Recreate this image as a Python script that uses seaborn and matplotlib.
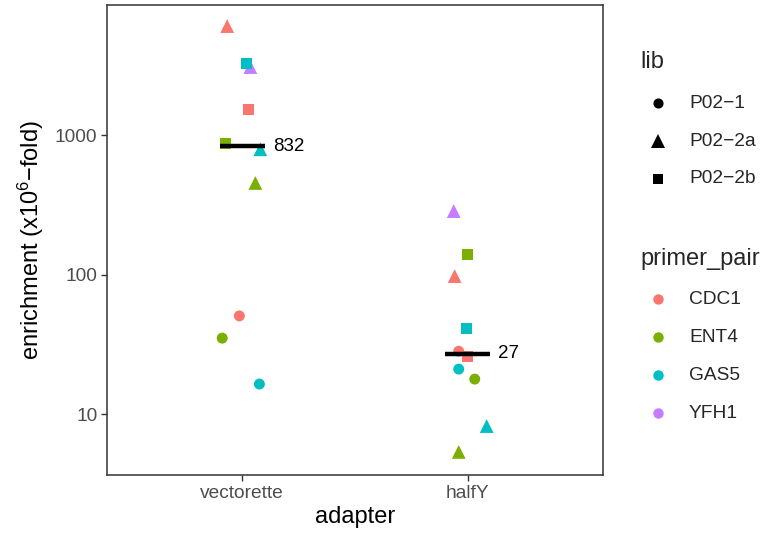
import numpy as np
import pandas as pd
import matplotlib
matplotlib.use("Agg")
import matplotlib.pyplot as plt
from matplotlib.lines import Line2D
import seaborn as sns

# ---------------- data ----------------
adapter_levels = ["vectorette", "halfY"]
lib_levels = ["P02−1", "P02−2a", "P02−2b"]
primer_levels = ["CDC1", "ENT4", "GAS5", "YFH1"]

adapter = ["vectorette"] * 10 + ["halfY"] * 10
lib = ["P02−2a", "P02−2b", "P02−2a", "P02−2b", "P02−2b",
       "P02−2a", "P02−2a", "P02−1", "P02−1", "P02−1",
       "P02−2a", "P02−2b", "P02−2a", "P02−2b", "P02−1",
       "P02−2b", "P02−1", "P02−1", "P02−2a", "P02−2a"]
primer_pair = ["CDC1", "GAS5", "YFH1", "CDC1", "ENT4",
               "GAS5", "ENT4", "CDC1", "ENT4", "GAS5",
               "YFH1", "ENT4", "CDC1", "GAS5", "CDC1",
               "CDC1", "GAS5", "ENT4", "GAS5", "ENT4"]
enrichment = [6040, 3280, 3070, 1535, 874,
              790, 453, 50.5, 35, 16.4,
              285, 140, 97.5, 41.3, 28.2,
              25.8, 21.0, 17.8, 8.2, 5.35]
# horizontal jitter (category units)
jitter = [-0.067, 0.018, 0.036, 0.027, -0.076,
          0.080, 0.058, -0.013, -0.089, 0.076,
          -0.062, 0.000, -0.058, -0.004, -0.040,
          0.000, -0.040, 0.031, 0.084, -0.040]

df = pd.DataFrame(dict(adapter=adapter, lib=lib, primer_pair=primer_pair,
                       enrichment=enrichment, jitter=jitter))
df["x"] = df["adapter"].map({a: i + 1 for i, a in enumerate(adapter_levels)}) + df["jitter"]

palette = dict(zip(primer_levels, ["#F8766D", "#7CAE00", "#00BFC4", "#C77CFF"]))
markers = {"P02−1": "o", "P02−2a": "^", "P02−2b": "s"}
msizes = {"P02−1": 62, "P02−2a": 98, "P02−2b": 62}

# ---------------- style ----------------
sns.set_theme(style="white")
plt.rcParams["font.family"] = ["Liberation Sans", "DejaVu Sans"]
plt.rcParams["mathtext.fontset"] = "custom"
plt.rcParams["mathtext.rm"] = "Liberation Sans"
plt.rcParams["mathtext.it"] = "Liberation Sans"

fig = plt.figure(figsize=(7.62, 5.33), dpi=100)
ax = fig.add_axes([107 / 762, 1 - 475 / 533, (603 - 107) / 762, (475 - 5) / 533])

for lv in lib_levels:
    sub = df[df["lib"] == lv]
    sns.scatterplot(data=sub, x="x", y="enrichment", hue="primer_pair",
                    palette=palette, marker=markers[lv], s=msizes[lv],
                    linewidth=0, legend=False, ax=ax, zorder=2)

# medians
for i, a in enumerate(adapter_levels):
    med = np.median(df.loc[df["adapter"] == a, "enrichment"])
    ax.hlines(med, i + 1 - 0.1, i + 1 + 0.1, color="black", lw=3.2, zorder=3)
    ax.text(i + 1 + 0.135, med, f"{med:.0f}", ha="left", va="center",
            fontsize=13.5, color="black")

ax.set_yscale("log")
ax.set_ylim(10 ** 0.563, 10 ** 3.932)
ax.set_xlim(0.4, 2.6)
ax.set_xticks([1, 2])
ax.set_xticklabels(adapter_levels)
ax.set_yticks([10, 100, 1000])
ax.set_yticklabels(["10", "100", "1000"])
ax.yaxis.set_minor_locator(matplotlib.ticker.NullLocator())
ax.tick_params(axis="both", which="major", direction="out", length=4, width=1,
               color="#333333", labelsize=13.8, labelcolor="#4D4D4D", pad=3,
               bottom=True, left=True)
for sp in ax.spines.values():
    sp.set_color("#333333")
    sp.set_linewidth(1.1)
ax.grid(False)
ax.set_xlabel("adapter", fontsize=17, color="black", labelpad=3)
ax.set_ylabel("enrichment (x10$^{6}$−fold)", fontsize=17, color="black", labelpad=6)

# ---------------- legends (manual) ----------------
def fx(px):
    return px / 762


def fy(py):
    return 1 - py / 533


fig.text(fx(640), fy(62), "lib", fontsize=17, ha="left", va="center")
for j, lv in enumerate(lib_levels):
    y = 103 + j * 38
    ms = 9.5 if lv == "P02−2a" else 7.3
    fig.add_artist(Line2D([fx(658)], [fy(y)], marker=markers[lv], color="black",
                          markersize=ms, markeredgewidth=0, linestyle="none",
                          transform=fig.transFigure))
    fig.text(fx(689), fy(y), lv, fontsize=13.8, ha="left", va="center")

fig.text(fx(640), fy(259), "primer_pair", fontsize=17, ha="left", va="center")
for j, p in enumerate(primer_levels):
    y = 299 + j * 38
    fig.add_artist(Line2D([fx(658)], [fy(y)], marker="o", color=palette[p],
                          markersize=7.5, markeredgewidth=0, linestyle="none",
                          transform=fig.transFigure))
    fig.text(fx(689), fy(y), p, fontsize=13.8, ha="left", va="center")

fig.savefig("out.png", dpi=100)
